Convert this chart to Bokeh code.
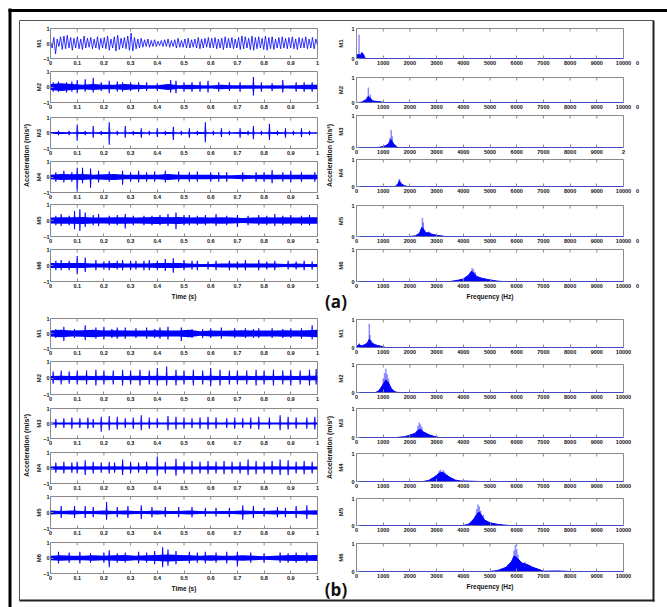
import numpy as np
from bokeh.plotting import figure
from bokeh.models import Range1d, FixedTicker, NumeralTickFormatter
from bokeh.embed import file_html
from bokeh.resources import INLINE
from bokeh.core.properties import value

# ---------------- tick values / labels ----------------
TIME_TICKS = [0, 0.1, 0.2, 0.3, 0.4, 0.5, 0.6, 0.7, 0.8, 0.9, 1]
FREQ_TICKS = [0, 1000, 2000, 3000, 4000, 5000, 6000, 7000, 8000, 9000, 10000]
TIME_YTICKS = [-1, 0, 1]
FREQ_YTICKS = [0, 1]
ROW_NAMES = ["M1", "M2", "M3", "M4", "M5", "M6"]

# ---------------- (a) time signals ----------------
A_M1_WAVE = [0.1,-0.3,0.4,-0.7,0.3,-0.2,0.45,-0.4,0.5,-0.35,0.55,-0.3,0.4,-0.45,0.35,-0.3,
             0.45,-0.35,0.3,-0.4,0.5,-0.3,0.35,-0.25,0.4,-0.35,0.3,-0.3,0.45,-0.4,0.35,-0.3,
             0.4,-0.35,0.5,-0.45,0.3,-0.3,0.45,-0.5,0.55,-0.4,0.35,-0.3,0.4,-0.35,0.5,-0.45,
             0.7,-0.5,0.4,-0.35,0.3,-0.3,0.35,-0.25,0.25,-0.2,0.3,-0.25,0.2,-0.2,0.25,-0.2,
             0.15,-0.15,0.2,-0.2,0.25,-0.2,0.3,-0.25,0.2,-0.2,0.25,-0.3,0.35,-0.25,0.2,-0.25,
             0.3,-0.3,0.35,-0.3,0.25,-0.25,0.3,-0.3,0.4,-0.35,0.3,-0.3,0.35,-0.25,0.4,-0.3,
             0.35,-0.3,0.4,-0.35,0.3,-0.3,0.35,-0.4,0.45,-0.3,0.35,-0.3,0.4,-0.35,0.3,-0.3,
             0.4,-0.4,0.5,-0.35,0.45,-0.3,0.35,-0.4,0.5,-0.45,0.4,-0.35,0.45,-0.3,0.35,-0.4,
             0.5,-0.45,0.4,-0.35,0.45,-0.4,0.3,-0.3,0.4,-0.35,0.45,-0.3,0.35,-0.35,0.4,-0.3,
             0.45,-0.35,0.3,-0.4,0.4,-0.3,0.35,-0.3,0.45,-0.35,0.3,-0.3,0.4,-0.35,0.3,-0.1]

A_M2_ENV = [0.2,0.25,0.2,0.15,0.2,0.15,0.15,0.2,0.15,0.12,0.12,0.2,0.12,0.15,0.12,0.1,0.15,0.12,0.12,0.12,0.1,0.12,0.1,0.12,0.15,0.15]
A_M2_T = [0.01,0.03,0.06,0.08,0.1,0.13,0.16,0.19,0.22,0.25,0.27,0.3,0.33,0.36,0.4,0.45,0.47,0.5,0.53,0.56,0.59,0.63,0.67,0.71,0.76,0.79,0.83,0.87,0.92,0.95,0.98]
A_M2_UP = [0.3,0.35,0.3,0.35,0.45,0.5,0.6,0.3,0.4,0.35,0.3,0.3,0.3,0.3,0.25,0.45,0.4,0.3,0.3,0.35,0.4,0.3,0.3,0.3,0.65,0.3,0.25,0.45,0.3,0.3,0.3]
A_M2_DN = [0.3,0.3,0.35,0.3,0.4,0.3,0.35,0.25,0.4,0.3,0.3,0.25,0.3,0.25,0.25,0.35,0.4,0.3,0.3,0.3,0.35,0.3,0.25,0.3,0.55,0.3,0.25,0.35,0.3,0.3,0.3]

A_M3_ENV = [0.06,0.06,0.05,0.06,0.05,0.06,0.05,0.05,0.06,0.05,0.05,0.06,0.05,0.05,0.06,0.05,0.05,0.05,0.06,0.05,0.05,0.06,0.05,0.05,0.05,0.05]
A_M3_T = [0.03,0.07,0.1,0.13,0.16,0.19,0.22,0.25,0.28,0.31,0.34,0.37,0.4,0.43,0.46,0.49,0.52,0.55,0.58,0.61,0.64,0.67,0.71,0.74,0.76,0.79,0.82,0.85,0.88,0.91,0.94,0.97]
A_M3_UP = [0.15,0.15,0.55,0.15,0.45,0.15,0.7,0.15,0.45,0.15,0.3,0.15,0.3,0.15,0.4,0.15,0.3,0.15,0.7,0.15,0.3,0.15,0.3,0.15,0.45,0.15,0.6,0.15,0.3,0.15,0.3,0.15]
A_M3_DN = [0.15,0.15,0.5,0.15,0.3,0.15,0.75,0.15,0.3,0.15,0.3,0.15,0.25,0.15,0.45,0.15,0.3,0.15,0.6,0.15,0.25,0.15,0.3,0.15,0.4,0.15,0.45,0.15,0.3,0.15,0.25,0.15]

A_M4_ENV = [0.15,0.2,0.18,0.2,0.15,0.18,0.2,0.15,0.15,0.15,0.15,0.2,0.15,0.15,0.15,0.15,0.12,0.12,0.15,0.12,0.15,0.15,0.15,0.15,0.15,0.15]
A_M4_T = [0.02,0.05,0.08,0.1,0.12,0.15,0.18,0.22,0.27,0.3,0.33,0.36,0.39,0.43,0.48,0.52,0.55,0.6,0.63,0.66,0.72,0.77,0.8,0.83,0.87,0.9,0.94,0.99]
A_M4_UP = [0.3,0.4,0.3,0.6,0.6,0.55,0.4,0.35,0.4,0.3,0.4,0.3,0.35,0.4,0.35,0.3,0.35,0.3,0.3,0.3,0.3,0.3,0.3,0.45,0.3,0.4,0.3,0.3]
A_M4_DN = [0.3,0.35,0.3,0.95,0.4,0.7,0.35,0.3,0.5,0.3,0.35,0.3,0.3,0.35,0.3,0.3,0.3,0.3,0.3,0.3,0.3,0.3,0.3,0.4,0.3,0.35,0.3,0.3]

A_M5_ENV = [0.18,0.2,0.2,0.22,0.18,0.18,0.2,0.2,0.18,0.2,0.22,0.2,0.22,0.18,0.2,0.18,0.2,0.18,0.15,0.18,0.2,0.18,0.2,0.18,0.2,0.2]
A_M5_T = [0.02,0.04,0.07,0.09,0.11,0.13,0.16,0.18,0.22,0.25,0.28,0.31,0.35,0.38,0.41,0.44,0.47,0.5,0.52,0.55,0.58,0.62,0.66,0.7,0.74,0.78,0.81,0.84,0.87,0.9,0.94,0.97]
A_M5_UP = [0.3,0.4,0.3,0.6,0.7,0.5,0.35,0.4,0.3,0.35,0.4,0.3,0.3,0.3,0.35,0.4,0.5,0.35,0.35,0.3,0.35,0.4,0.3,0.35,0.3,0.35,0.3,0.4,0.3,0.35,0.3,0.35]
A_M5_DN = [0.3,0.35,0.3,0.55,0.65,0.4,0.3,0.35,0.3,0.3,0.5,0.3,0.3,0.3,0.3,0.35,0.55,0.3,0.3,0.3,0.3,0.35,0.3,0.4,0.3,0.3,0.3,0.35,0.3,0.3,0.3,0.3]

A_M6_ENV = [0.15,0.15,0.15,0.15,0.12,0.12,0.15,0.12,0.12,0.12,0.15,0.15,0.15,0.12,0.1,0.1,0.12,0.12,0.12,0.12,0.12,0.12,0.1,0.12,0.1,0.1]
A_M6_T = [0.02,0.04,0.07,0.1,0.13,0.17,0.2,0.22,0.25,0.27,0.3,0.32,0.35,0.37,0.4,0.43,0.46,0.5,0.53,0.55,0.59,0.62,0.67,0.7,0.73,0.78,0.81,0.84,0.89,0.92,0.95,0.98]
A_M6_UP = [0.3,0.35,0.3,0.6,0.5,0.35,0.25,0.3,0.3,0.35,0.3,0.3,0.3,0.35,0.3,0.4,0.45,0.35,0.3,0.3,0.25,0.3,0.3,0.25,0.35,0.35,0.25,0.3,0.3,0.25,0.3,0.25]
A_M6_DN = [0.3,0.3,0.3,0.55,0.4,0.3,0.25,0.3,0.25,0.3,0.3,0.25,0.3,0.3,0.3,0.35,0.45,0.3,0.25,0.3,0.25,0.3,0.3,0.25,0.3,0.3,0.25,0.3,0.25,0.25,0.3,0.25]

# ---------------- (b) time signals ----------------
B_M1_ENV = [0.2,0.25,0.2,0.22,0.25,0.2,0.22,0.2,0.2,0.2,0.22,0.2,0.2,0.25,0.15,0.2,0.18,0.2,0.22,0.2,0.2,0.2,0.22,0.2,0.22,0.25]
B_M1_T = [0.02,0.05,0.09,0.13,0.17,0.2,0.23,0.25,0.28,0.32,0.36,0.39,0.41,0.44,0.49,0.53,0.57,0.6,0.64,0.69,0.73,0.76,0.78,0.83,0.87,0.9,0.94,0.98]
B_M1_UP = [0.3,0.45,0.3,0.55,0.4,0.45,0.3,0.4,0.4,0.35,0.4,0.3,0.4,0.45,0.4,0.3,0.3,0.35,0.4,0.35,0.35,0.3,0.35,0.35,0.3,0.35,0.35,0.55]
B_M1_DN = [0.3,0.5,0.3,0.45,0.35,0.4,0.3,0.35,0.35,0.3,0.35,0.3,0.35,0.4,0.5,0.3,0.3,0.3,0.35,0.3,0.3,0.3,0.3,0.3,0.3,0.3,0.35,0.4]

B_M2_ENV = [0.12,0.13,0.12,0.14,0.12,0.13,0.12,0.12,0.13,0.12,0.14,0.12,0.13,0.12,0.12,0.13,0.12,0.12,0.14,0.12,0.13,0.12,0.13,0.12,0.13,0.14]
B_M2_T = [0.01,0.04,0.07,0.1,0.135,0.17,0.2,0.235,0.27,0.3,0.335,0.37,0.4,0.435,0.47,0.5,0.535,0.57,0.6,0.635,0.67,0.7,0.735,0.77,0.8,0.835,0.87,0.9,0.935,0.97,0.995]
B_M2_UP = [0.4,0.45,0.4,0.45,0.45,0.5,0.45,0.45,0.5,0.45,0.5,0.45,0.6,0.7,0.5,0.45,0.5,0.45,0.6,0.5,0.45,0.45,0.45,0.5,0.45,0.5,0.45,0.5,0.45,0.5,0.55]
B_M2_DN = [0.35,0.4,0.35,0.4,0.4,0.45,0.4,0.4,0.45,0.4,0.45,0.4,0.45,0.45,0.45,0.4,0.45,0.4,0.5,0.45,0.4,0.4,0.4,0.45,0.4,0.45,0.4,0.45,0.4,0.45,0.4]

B_M3_ENV = [0.06,0.07,0.06,0.07,0.06,0.06,0.07,0.06,0.06,0.07,0.06,0.06,0.07,0.06,0.06,0.07,0.06,0.06,0.07,0.06,0.06,0.07,0.06,0.06,0.07,0.06]
B_M3_T = [0.02,0.05,0.08,0.11,0.14,0.16,0.19,0.22,0.25,0.28,0.31,0.34,0.37,0.4,0.44,0.47,0.5,0.53,0.56,0.59,0.62,0.66,0.69,0.72,0.75,0.78,0.82,0.86,0.89,0.92,0.96,0.99]
B_M3_UP = [0.3,0.35,0.4,0.35,0.4,0.3,0.45,0.5,0.45,0.35,0.4,0.55,0.4,0.35,0.5,0.45,0.4,0.35,0.4,0.45,0.4,0.35,0.4,0.35,0.4,0.45,0.4,0.55,0.45,0.4,0.4,0.45]
B_M3_DN = [0.3,0.3,0.35,0.3,0.35,0.3,0.55,0.45,0.4,0.3,0.35,0.45,0.35,0.3,0.45,0.4,0.35,0.3,0.35,0.4,0.35,0.3,0.35,0.3,0.35,0.4,0.35,0.45,0.4,0.35,0.35,0.4]

B_M4_ENV = [0.1,0.12,0.1,0.1,0.12,0.1,0.12,0.1,0.1,0.12,0.1,0.1,0.12,0.1,0.1,0.12,0.1,0.1,0.12,0.1,0.1,0.12,0.1,0.1,0.12,0.1]
B_M4_T = [0.02,0.05,0.08,0.1,0.13,0.16,0.19,0.22,0.24,0.27,0.3,0.33,0.36,0.4,0.43,0.47,0.5,0.53,0.56,0.59,0.62,0.65,0.68,0.71,0.74,0.77,0.8,0.83,0.86,0.89,0.92,0.95,0.98]
B_M4_UP = [0.35,0.4,0.35,0.4,0.5,0.4,0.35,0.4,0.35,0.55,0.4,0.35,0.4,0.75,0.4,0.6,0.4,0.45,0.4,0.45,0.4,0.45,0.4,0.4,0.55,0.45,0.4,0.45,0.55,0.5,0.4,0.45,0.4]
B_M4_DN = [0.3,0.35,0.3,0.35,0.45,0.35,0.3,0.35,0.3,0.45,0.35,0.3,0.35,0.5,0.35,0.5,0.35,0.4,0.35,0.4,0.35,0.4,0.35,0.35,0.45,0.4,0.35,0.4,0.45,0.45,0.35,0.4,0.35]

B_M5_ENV = [0.12,0.1,0.12,0.1,0.1,0.12,0.1,0.12,0.1,0.1,0.12,0.1,0.1,0.12,0.1,0.08,0.1,0.1,0.12,0.1,0.1,0.12,0.1,0.1,0.12,0.14]
B_M5_T = [0.04,0.09,0.13,0.16,0.21,0.25,0.29,0.34,0.38,0.43,0.48,0.53,0.58,0.62,0.67,0.72,0.76,0.8,0.85,0.88,0.92,0.96]
B_M5_UP = [0.4,0.4,0.4,0.35,0.65,0.35,0.4,0.45,0.35,0.35,0.35,0.35,0.3,0.3,0.3,0.45,0.4,0.3,0.35,0.3,0.4,0.45]
B_M5_DN = [0.35,0.35,0.35,0.3,0.45,0.3,0.35,0.4,0.3,0.3,0.3,0.3,0.25,0.25,0.3,0.45,0.35,0.25,0.3,0.3,0.35,0.4]

B_M6_ENV = [0.15,0.18,0.15,0.15,0.18,0.15,0.18,0.2,0.15,0.18,0.2,0.22,0.2,0.18,0.15,0.18,0.15,0.15,0.18,0.15,0.12,0.15,0.18,0.2,0.18,0.2]
B_M6_T = [0.03,0.07,0.11,0.15,0.2,0.22,0.25,0.28,0.33,0.36,0.39,0.42,0.44,0.47,0.52,0.55,0.58,0.62,0.66,0.7,0.75,0.8,0.86,0.89,0.92,0.96]
B_M6_UP = [0.4,0.35,0.4,0.3,0.35,0.5,0.3,0.35,0.4,0.35,0.45,0.7,0.55,0.45,0.4,0.35,0.4,0.35,0.4,0.4,0.35,0.3,0.35,0.3,0.35,0.35]
B_M6_DN = [0.35,0.3,0.35,0.3,0.3,0.6,0.3,0.3,0.35,0.3,0.4,0.6,0.5,0.4,0.35,0.3,0.35,0.3,0.35,0.55,0.3,0.3,0.3,0.3,0.3,0.3]

# ---------------- spectra (frequency Hz, amplitude) ----------------
FA_M1_F = [0,20,60,90,110,150,200,250,300,330,10000]
FA_M1_A = [0.05,0.12,0.12,0.15,0.12,0.12,0.18,0.15,0.06,0,0]
FA_M1_PF = [95,180,215,260]
FA_M1_PA = [0.8,0.2,0.22,0.15]
FA_M2_F = [0,200,300,380,440,500,550,600,700,800,900,1000,10000]
FA_M2_A = [0,0.01,0.08,0.12,0.25,0.2,0.12,0.07,0.05,0.04,0.03,0,0]
FA_M2_PF = [300,380,445,520,560]
FA_M2_PA = [0.12,0.2,0.6,0.32,0.15]
FA_M3_F = [0,800,1000,1100,1200,1280,1330,1400,1500,1550,10000]
FA_M3_A = [0,0,0.03,0.06,0.12,0.25,0.2,0.1,0.03,0,0]
FA_M3_PF = [1250,1300,1340]
FA_M3_PA = [0.3,0.55,0.35]
FA_M4_F = [0,1450,1550,1600,1650,1700,1800,1900,10000]
FA_M4_A = [0,0,0.1,0.2,0.15,0.08,0.03,0,0]
FA_M4_PF = [1600,1620]
FA_M4_PA = [0.28,0.25]
FA_M5_F = [0,2000,2200,2350,2450,2500,2600,2700,2800,3000,3200,3300,10000]
FA_M5_A = [0,0,0.02,0.1,0.3,0.25,0.12,0.12,0.08,0.04,0.02,0,0]
FA_M5_PF = [2470,2500,2700,2750]
FA_M5_PA = [0.6,0.45,0.16,0.14]
FA_M6_F = [0,3500,3800,4000,4200,4300,4400,4500,4700,5000,5300,5500,10000]
FA_M6_A = [0,0,0.04,0.08,0.2,0.32,0.26,0.16,0.1,0.05,0.01,0,0]
FA_M6_PF = [4330,4380,4450]
FA_M6_PA = [0.42,0.38,0.3]

FB_M1_F = [0,50,100,200,300,400,480,550,600,700,800,900,1000,1100,10000]
FB_M1_A = [0.03,0.08,0.1,0.06,0.1,0.15,0.3,0.2,0.15,0.1,0.07,0.05,0.02,0,0]
FB_M1_PF = [100,480,500,560]
FB_M1_PA = [0.15,0.85,0.45,0.25]
FB_M2_F = [0,700,800,900,1000,1100,1200,1300,1400,1500,1600,10000]
FB_M2_A = [0,0,0.04,0.15,0.3,0.45,0.35,0.15,0.05,0.01,0,0]
FB_M2_PF = [1000,1050,1100,1150,1200]
FB_M2_PA = [0.5,0.7,0.85,0.65,0.5]
FB_M3_F = [0,1500,1800,2000,2200,2300,2400,2500,2700,2900,3100,10000]
FB_M3_A = [0,0,0.03,0.08,0.15,0.25,0.28,0.2,0.1,0.04,0,0]
FB_M3_PF = [2300,2350,2400,2450]
FB_M3_PA = [0.4,0.52,0.45,0.35]
FB_M4_F = [0,2500,2700,2900,3000,3100,3200,3300,3500,3700,3900,4300,4600,10000]
FB_M4_A = [0,0,0.04,0.15,0.22,0.3,0.33,0.28,0.15,0.05,0.02,0.01,0,0]
FB_M4_PF = [3100,3150,3250,3300]
FB_M4_PA = [0.38,0.42,0.4,0.35]
FB_M5_F = [0,4000,4200,4400,4500,4600,4700,4800,5000,5300,5600,5700,10000]
FB_M5_A = [0,0,0.05,0.25,0.42,0.5,0.35,0.2,0.1,0.04,0.01,0,0]
FB_M5_PF = [4500,4550,4600,4650,4750]
FB_M5_PA = [0.6,0.78,0.7,0.55,0.4]
FB_M6_F = [0,5000,5300,5600,5800,5900,6000,6200,6400,6600,6900,7000,7500,7800,8000,10000]
FB_M6_A = [0,0,0.04,0.15,0.35,0.55,0.5,0.3,0.25,0.15,0.05,0.01,0.02,0.01,0,0]
FB_M6_PF = [5900,5950,6000,6050,6300]
FB_M6_PA = [0.75,0.95,0.8,0.6,0.35]

# ---------------- layout (window pixel positions of plot frames) ----------------
TIME_X, FREQ_X, FRAME_W = 50, 356, 267
TIME_A_TOP = [28, 71, 117, 161, 204, 249]
TIME_A_H = [30, 31, 31, 31, 32, 32]
FREQ_A_TOP = [28, 77, 115, 159, 205, 249]
FREQ_A_H = [30, 25, 32, 27, 31, 32]
TIME_B_TOP = [318, 361, 408, 452, 496, 542]
TIME_B_H = [30, 33, 30, 31, 32, 31]
FREQ_B_TOP = [319, 364, 408, 453, 498, 543]
FREQ_B_H = [28, 28, 29, 28, 27, 28]

BLUE = "#0000ff"
GRAY = "#8a8a8a"
FONT = "Liberation Sans"
TICK_FS = "5.5px"
W, H = 667, 607

TIME_A = [(None, None, None, None, A_M1_WAVE),
          (A_M2_ENV, A_M2_T, A_M2_UP, A_M2_DN, None),
          (A_M3_ENV, A_M3_T, A_M3_UP, A_M3_DN, None),
          (A_M4_ENV, A_M4_T, A_M4_UP, A_M4_DN, None),
          (A_M5_ENV, A_M5_T, A_M5_UP, A_M5_DN, None),
          (A_M6_ENV, A_M6_T, A_M6_UP, A_M6_DN, None)]
TIME_B = [(B_M1_ENV, B_M1_T, B_M1_UP, B_M1_DN, None),
          (B_M2_ENV, B_M2_T, B_M2_UP, B_M2_DN, None),
          (B_M3_ENV, B_M3_T, B_M3_UP, B_M3_DN, None),
          (B_M4_ENV, B_M4_T, B_M4_UP, B_M4_DN, None),
          (B_M5_ENV, B_M5_T, B_M5_UP, B_M5_DN, None),
          (B_M6_ENV, B_M6_T, B_M6_UP, B_M6_DN, None)]
FREQ_A = [(FA_M1_F, FA_M1_A, FA_M1_PF, FA_M1_PA), (FA_M2_F, FA_M2_A, FA_M2_PF, FA_M2_PA),
          (FA_M3_F, FA_M3_A, FA_M3_PF, FA_M3_PA), (FA_M4_F, FA_M4_A, FA_M4_PF, FA_M4_PA),
          (FA_M5_F, FA_M5_A, FA_M5_PF, FA_M5_PA), (FA_M6_F, FA_M6_A, FA_M6_PF, FA_M6_PA)]
FREQ_B = [(FB_M1_F, FB_M1_A, FB_M1_PF, FB_M1_PA), (FB_M2_F, FB_M2_A, FB_M2_PF, FB_M2_PA),
          (FB_M3_F, FB_M3_A, FB_M3_PF, FB_M3_PA), (FB_M4_F, FB_M4_A, FB_M4_PF, FB_M4_PA),
          (FB_M5_F, FB_M5_A, FB_M5_PF, FB_M5_PA), (FB_M6_F, FB_M6_A, FB_M6_PF, FB_M6_PA)]


def style_axes(p, kind, name, xlabel):
    for ax in p.axis:
        ax.major_label_text_font = FONT
        ax.major_label_text_font_style = "bold"
        ax.major_label_text_font_size = TICK_FS
        ax.major_label_text_color = "#111111"
        ax.axis_line_color = None
        ax.major_tick_in = 3
        ax.major_tick_out = 0
        ax.major_tick_line_color = GRAY
        ax.minor_tick_line_color = None
        ax.major_label_standoff = 2
        ax.axis_label_text_font = FONT
        ax.axis_label_text_font_style = "bold"
        ax.axis_label_text_font_size = "6.5px"
        ax.axis_label_text_color = "#111111"
    p.xaxis.ticker = FixedTicker(ticks=TIME_TICKS if kind == "t" else FREQ_TICKS)
    p.yaxis.ticker = FixedTicker(ticks=TIME_YTICKS if kind == "t" else FREQ_YTICKS)
    p.xaxis.formatter = NumeralTickFormatter(format="0.[0]" if kind == "t" else "0")
    p.yaxis.axis_label = name
    p.yaxis.axis_label_text_font_size = "6px"
    if kind == "t":
        p.yaxis.major_label_standoff = 1
        p.yaxis.axis_label_standoff = -2
    else:
        p.yaxis.axis_label_standoff = 4
    if xlabel:
        p.xaxis.axis_label = xlabel
        p.xaxis.axis_label_standoff = 2


def base_fig(kind, fx, fy, fh, xlabel):
    L = 40 if kind == "t" else 30
    R = 10 if kind == "t" else 22
    T = 4
    B = 22 if xlabel else 13
    xr = Range1d(0, 1) if kind == "t" else Range1d(0, 10000)
    yr = Range1d(-1, 1) if kind == "t" else Range1d(0, 1)
    p = figure(frame_width=FRAME_W, frame_height=fh, x_range=xr, y_range=yr,
               min_border_left=L, min_border_right=R, min_border_top=T, min_border_bottom=B,
               toolbar_location=None, output_backend="svg",
               background_fill_color="white", border_fill_alpha=0,
               outline_line_color=GRAY, outline_line_width=1)
    p.grid.visible = False
    p.styles = {"position": "absolute", "left": f"{fx - L}px", "top": f"{fy - T}px"}
    # inward tick marks along the top edge of the box, at the x tick positions
    ticks = TIME_TICKS if kind == "t" else FREQ_TICKS
    y_top = yr.end
    y_len = 3.0 * (yr.end - yr.start) / fh
    p.segment(x0=ticks, y0=[y_top] * len(ticks), x1=ticks, y1=[y_top - y_len] * len(ticks),
              line_color=GRAY, line_width=1)
    return p


def time_panel(data, fx, fy, fh, name, xlabel):
    env, t, up, dn, wave = data
    p = base_fig("t", fx, fy, fh, xlabel)
    if wave is not None:
        x = np.linspace(0, 1, len(wave))
        p.line(x, wave, line_color=BLUE, line_width=0.8)
    else:
        e = np.array(env)
        x = np.linspace(0, 1, len(e))
        p.varea(x=x, y1=-e, y2=e, fill_color=BLUE)
        hw = 0.006
        xs = [[ti - hw, ti, ti + hw, ti] for ti in t]
        ys = [[0, u, 0, -d] for u, d in zip(up, dn)]
        p.patches(xs=xs, ys=ys, fill_color=BLUE, fill_alpha=0.45, line_color=None)
        p.segment(x0=t, y0=[-v for v in dn], x1=t, y1=up, line_color=BLUE, line_width=1.1)
    style_axes(p, "t", name, xlabel)
    return p


def freq_panel(data, fx, fy, fh, name, xlabel, override=None):
    f, a, pf, pa = data
    p = base_fig("f", fx, fy, fh, xlabel)
    p.varea(x=f, y1=0, y2=a, fill_color=BLUE)
    p.segment(x0=pf, y0=0, x1=pf, y1=pa, line_color=BLUE, line_alpha=0.45, line_width=1.5)
    p.line(f, a, line_color=BLUE, line_width=1.0)
    style_axes(p, "f", name, xlabel)
    if override:
        p.xaxis.major_label_overrides = override
    return p


roots = []

# overlay with frames and large labels, in window pixel coordinates (own root, no layout alignment)
ov = figure(width=W, height=H, x_range=Range1d(0, W), y_range=Range1d(H, 0),
            min_border_left=0, min_border_right=0, min_border_top=0, min_border_bottom=0,
            toolbar_location=None, output_backend="svg",
            outline_line_color=None, background_fill_alpha=0, border_fill_alpha=0,
            x_axis_location=None, y_axis_location=None)
ov.grid.visible = False
ov.styles = {"position": "absolute", "left": "0px", "top": "0px"}
ov.segment(x0=[8, 9.5], y0=[10, 8], x1=[W, 9.5], y1=[10, H], line_color="black", line_width=3)
ov.segment(x0=[19, 19], y0=[20, 20], x1=[653, 19], y1=[20, 600], line_color="#555555", line_width=1)
ov.segment(x0=[653, 19], y0=[20, 600], x1=[653, 654], y1=[601, 600], line_color="#222222", line_width=2)
ov.text(x=[26, 329, 26, 329], y=[155, 155, 445, 447], text=["Acceleration (m/s²)"] * 4,
        angle=np.pi / 2, text_align="center", text_baseline="middle",
        text_font=value(FONT), text_font_style="bold", text_font_size="7px", text_color="#111111")
ov.text(x=[335.5, 335.5], y=[301, 589], text=["(a)", "(b)"], text_align="center", text_baseline="middle",
        text_font=value("Open Sans"), text_font_style="bold", text_font_size="17px", text_color="#111111")
# stray "0" printed after the 10000 tick in panel (a) spectra (except M3)
STRAY_Y = [FREQ_A_TOP[i] + FREQ_A_H[i] + 2 for i in (0, 1, 3, 4, 5)]
ov.text(x=[637] * 5, y=STRAY_Y, text=["0"] * 5, text_align="center", text_baseline="top",
        text_font=value(FONT), text_font_style="bold", text_font_size=TICK_FS, text_color="#111111")
roots.append(ov)

for i in range(6):
    xl = "Time (s)" if i == 5 else None
    roots.append(time_panel(TIME_A[i], TIME_X, TIME_A_TOP[i], TIME_A_H[i], ROW_NAMES[i], xl))
    roots.append(time_panel(TIME_B[i], TIME_X, TIME_B_TOP[i], TIME_B_H[i], ROW_NAMES[i], xl))
    fl = "Frequency (Hz)" if i == 5 else None
    ov_lab = {10000: "2"} if i == 2 else None
    roots.append(freq_panel(FREQ_A[i], FREQ_X, FREQ_A_TOP[i], FREQ_A_H[i], ROW_NAMES[i], fl,
                            override=ov_lab))
    roots.append(freq_panel(FREQ_B[i], FREQ_X, FREQ_B_TOP[i], FREQ_B_H[i], ROW_NAMES[i], fl))

open("out.html", "w").write(file_html(roots, INLINE))
